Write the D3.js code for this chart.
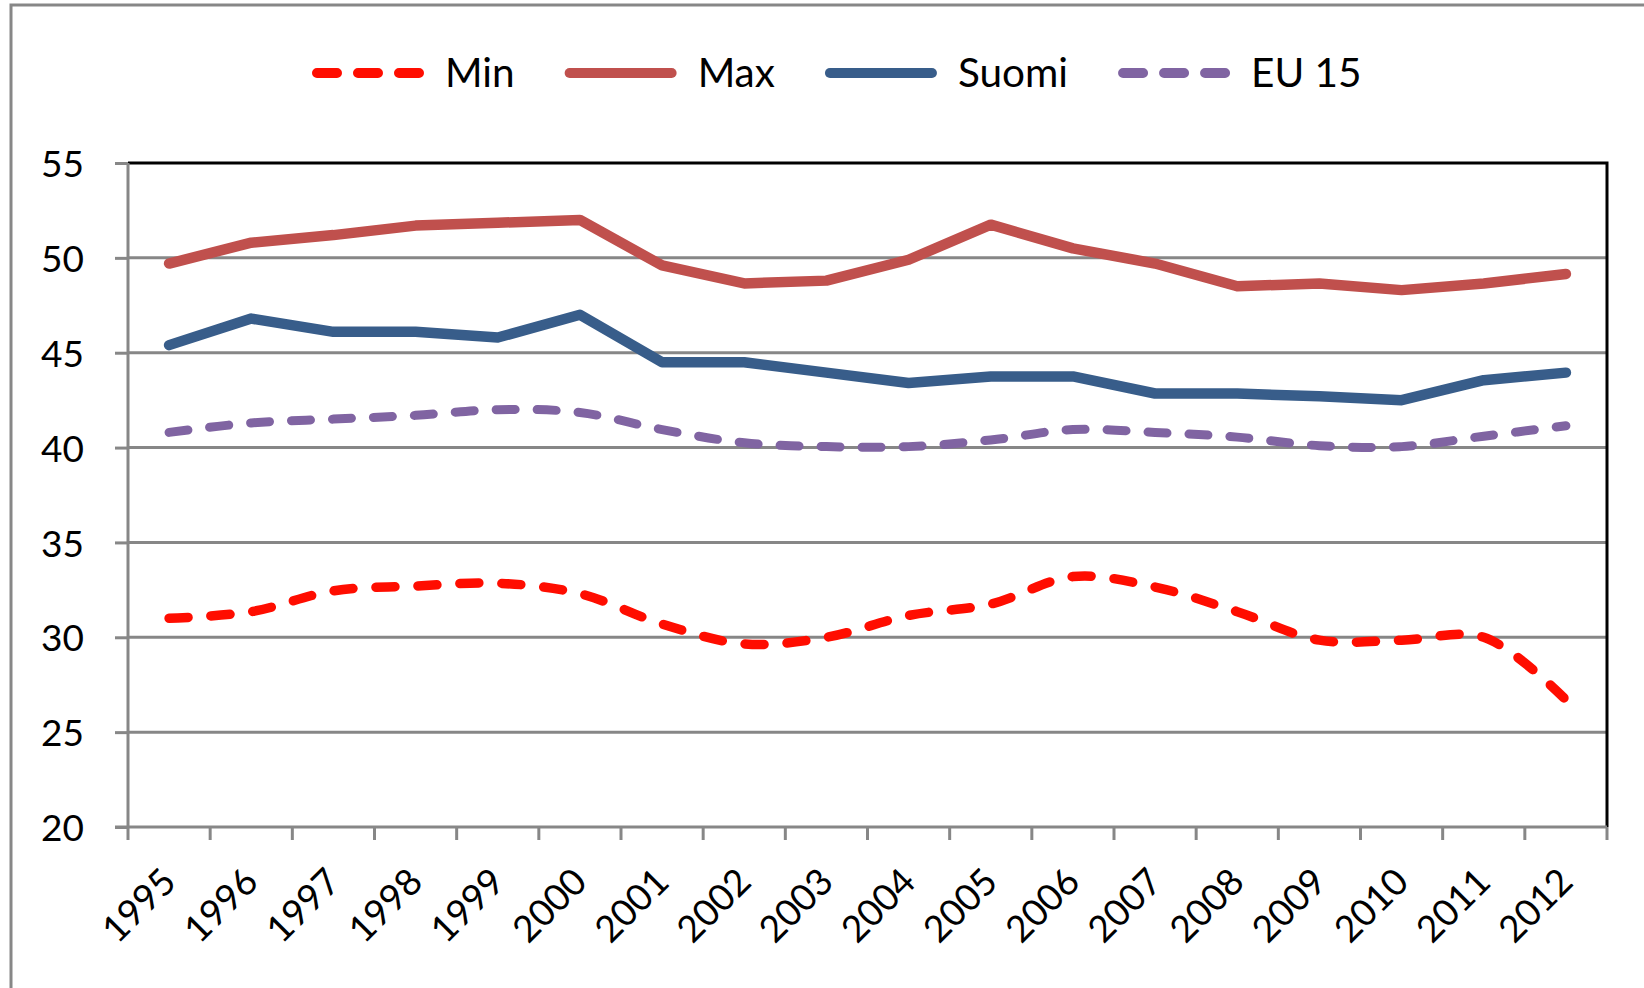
<!DOCTYPE html>
<html><head><meta charset="utf-8">
<script src="https://cdn.jsdelivr.net/npm/d3@7"></script>
<style>
body{margin:0;background:#fff}
svg{display:block}
text{font-family:Lato,"Open Sans",sans-serif;fill:#000}
</style>
</head><body>
<svg id="c" width="1644" height="988"></svg>
<script>
// ---- data ----
const years = ["1995","1996","1997","1998","1999","2000","2001","2002","2003","2004","2005","2006","2007","2008","2009","2010","2011","2012"];
const minValues   = [31.0,31.35,32.45,32.7,32.85,32.3,30.7,29.65,30.0,31.15,31.75,33.2,32.65,31.35,29.85,29.85,30.0,26.7];
const maxValues   = [49.7,50.8,51.2,51.7,51.85,52.0,49.6,48.65,48.8,49.9,51.75,50.5,49.7,48.5,48.65,48.3,48.65,49.15];
const suomiValues = [45.4,46.8,46.1,46.1,45.8,47.0,44.5,44.5,43.95,43.4,43.75,43.75,42.85,42.85,42.7,42.5,43.55,43.95];
const eu15Values  = [40.8,41.3,41.5,41.7,42.0,41.85,40.95,40.25,40.05,40.05,40.4,40.95,40.8,40.55,40.1,40.05,40.6,41.15];
const seriesNames = ["Min","Max","Suomi","EU 15"];
const yTicks = [20,25,30,35,40,45,50,55];

// ---- styles ----
const styles = [
  {color:"#FF0D00", width:9.5, dash:"19 23", smooth:true, legendDash:"20 21"},
  {color:"#C0504D", width:10.5, dash:null, smooth:false},
  {color:"#385D8A", width:10.5, dash:null, smooth:false},
  {color:"#8064A2", width:9, dash:"19 22", smooth:true, legendDash:"20 21"}
];
const seriesValues = [minValues, maxValues, suomiValues, eu15Values];

const svg = d3.select("#c");
const L = 128, R = 1607, T = 163, B = 827;
const grid = "#878787";

// outer frame
svg.append("rect").attr("x",11).attr("y",5).attr("width",1700).attr("height",1100)
  .attr("fill","none").attr("stroke",grid).attr("stroke-width",3);

const x = d3.scaleBand().domain(years).range([L,R]).paddingInner(0).paddingOuter(0);
const xc = d => x(d) + x.bandwidth()/2;
const y = d3.scaleLinear().domain([20,55]).range([B,T]);

// gridlines
svg.append("g").selectAll("line").data(yTicks.filter(v=>v>20 && v<55)).join("line")
  .attr("x1",L).attr("x2",R).attr("y1",d=>y(d)).attr("y2",d=>y(d))
  .attr("stroke",grid).attr("stroke-width",3);

// top & right border (black)
svg.append("path").attr("d",`M${L},${y(55)}H${R}V${B}`).attr("fill","none")
  .attr("stroke","#000").attr("stroke-width",3);

// y axis
const yAxis = svg.append("g").attr("transform",`translate(${L},0)`)
  .call(d3.axisLeft(y).tickValues(yTicks).tickSize(13).tickPadding(31).tickFormat(d3.format("d")));
yAxis.select(".domain").attr("stroke",grid).attr("stroke-width",3).attr("d",`M0,${T}V${B}`);
yAxis.selectAll(".tick line").attr("stroke",grid).attr("stroke-width",3);
yAxis.selectAll(".tick text").attr("font-size",37).attr("font-family","Lato").attr("dy","0.37em").attr("fill","#000");

// x axis
const xAxis = svg.append("g").attr("transform",`translate(0,${B})`);
xAxis.append("line").attr("x1",L-13).attr("x2",R).attr("y1",0).attr("y2",0)
  .attr("stroke",grid).attr("stroke-width",3);
xAxis.selectAll("line.tk").data(years.concat(["end"])).join("line").attr("class","tk")
  .attr("x1",d=> d==="end"? R : x(d)).attr("x2",d=> d==="end"? R : x(d))
  .attr("y1",0).attr("y2",13).attr("stroke",grid).attr("stroke-width",3);
xAxis.selectAll("text").data(years).join("text")
  .attr("transform",d=>`translate(${xc(d)+9},57) rotate(-45)`)
  .attr("text-anchor","end").attr("font-size",37).text(d=>d);

// lines
const lineStraight = d3.line().x((d,i)=>xc(years[i])).y(d=>y(d));
const lineSmooth = d3.line().x((d,i)=>xc(years[i])).y(d=>y(d)).curve(d3.curveCatmullRom.alpha(0.5));
seriesValues.forEach((vals,k)=>{
  const s = styles[k];
  svg.append("path").datum(vals)
    .attr("d", s.smooth ? lineSmooth : lineStraight)
    .attr("fill","none").attr("stroke",s.color).attr("stroke-width",s.width)
    .attr("stroke-linecap","round").attr("stroke-linejoin","round")
    .attr("stroke-dasharray",s.dash);
});

// legend
const leg = svg.append("g");
let lx = 317;
seriesNames.forEach((name,k)=>{
  const s = styles[k];
  leg.append("line").attr("x1",lx).attr("x2",lx+102).attr("y1",73).attr("y2",73)
    .attr("stroke",s.color).attr("stroke-width",10).attr("stroke-linecap","round")
    .attr("stroke-dasharray",s.legendDash||null);
  const t = leg.append("text").attr("x",lx+128).attr("y",87).attr("font-size",40.5).text(name);
  const w = t.node().getComputedTextLength();
  lx = lx + 128 + w + 55;
});
</script>
</body></html>
